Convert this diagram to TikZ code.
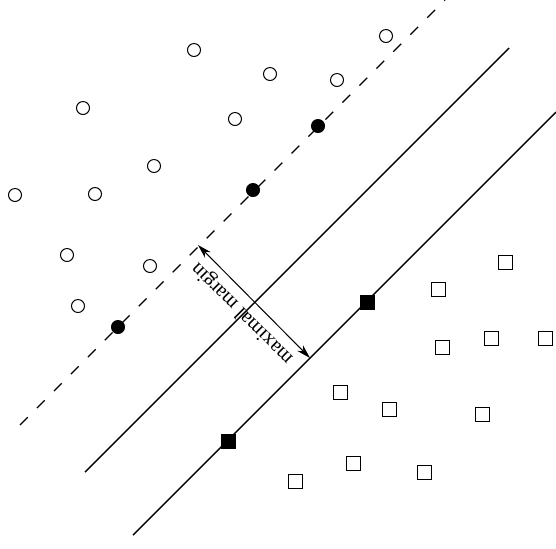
\documentclass[tikz,border=0pt]{standalone}
\usepackage{fontspec}
\setmainfont{Liberation Serif}
\usetikzlibrary{arrows.meta}
\begin{document}
\begin{tikzpicture}[x=0.5pt,y=-0.5pt,
	    posdot/.style={draw,circle,minimum size=6.5pt,inner sep=0pt,line width=0.5pt},
	    negbox/.style={draw,rectangle,minimum size=7pt,inner sep=0pt,line width=0.5pt},
	    sv/.style={fill=black}]
	    \useasboundingbox (0,0) rectangle (556,548);

	    \foreach \x/\y [count=\i] in {194/50,270/74,386/36,337/80,83/108,235/119,154/166,15/195,95/194,67/255,150/266,78/306}
	        \node[posdot] (c\i) at (\x,\y) {};
	    \foreach \x/\y [count=\i] in {118/327,253/190,318/126}
	        \node[posdot,sv] (cs\i) at (\x,\y) {};
	    \foreach \x/\y [count=\i] in {505/262,438/289,442/347,491/338,545/338,340/392,389/409,482/414,353/463,424/472,295/481}
	        \node[negbox] (s\i) at (\x,\y) {};
	    \foreach \x/\y [count=\i] in {367/302,228/441}
	        \node[negbox,sv] (ss\i) at (\x,\y) {};

	    \coordinate (up1) at (20,425);
	    \coordinate (up2) at (445,0);
	    \coordinate (mid1) at (85,472);
	    \coordinate (mid2) at (509,48);
	    \coordinate (lo1) at (133,535);
	    \coordinate (lo2) at (556,112);
	    \coordinate (m1) at (198,245);
	    \coordinate (m2) at (310,358);

	    \draw[line width=0.6pt,dash pattern=on 5.5pt off 6.5pt] (up1) -- (up2);
	    \draw[line width=0.7pt] (mid1) -- (mid2);
	    \draw[line width=0.7pt] (lo1) -- (lo2);
	    \draw[line width=0.5pt,{Stealth[length=7pt,width=4pt]}-{Stealth[length=7pt,width=4pt]}] (m1) -- (m2)
	        node[midway,rotate=135,anchor=south,font=\fontsize{10.3}{12}\selectfont] {maximal margin};
	    \end{tikzpicture}
\end{document}
